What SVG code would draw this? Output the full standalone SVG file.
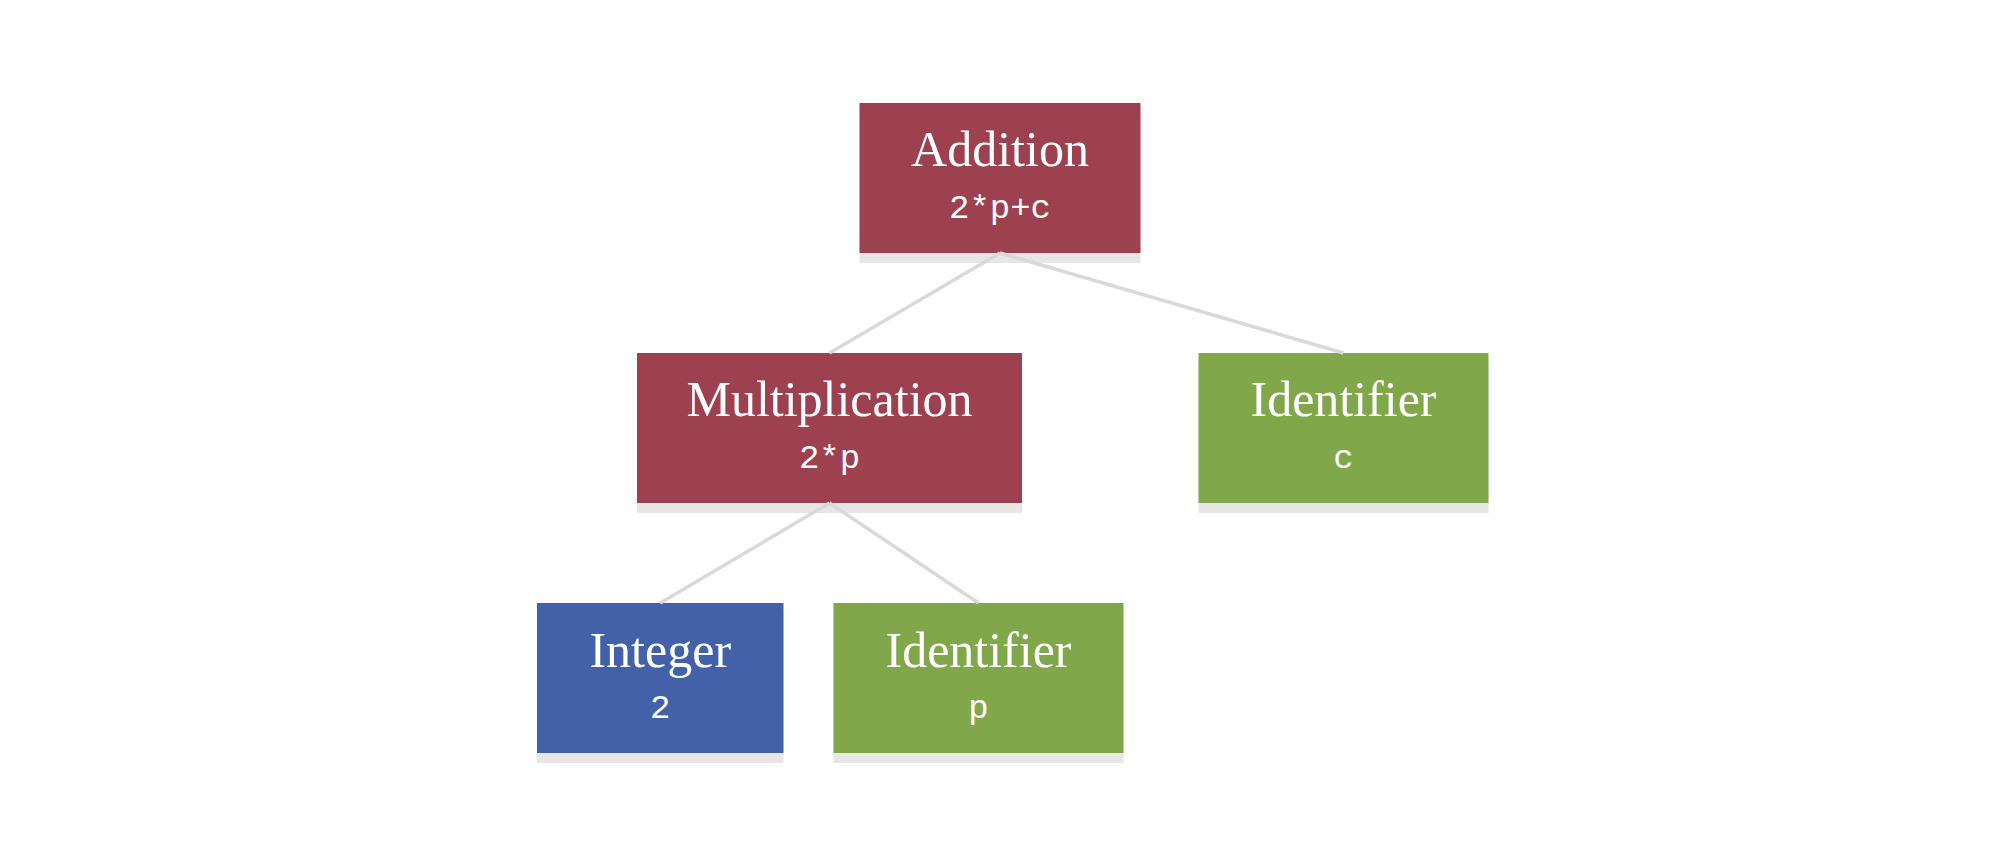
<svg xmlns="http://www.w3.org/2000/svg" width="1996" height="854" viewBox="0 0 1996 854">
  <style>
    .shadow { fill: #e6e6e6; }
    .op { fill: #9d404f; }
    .id { fill: #81a74b; }
    .int { fill: #4361a8; }
    .title { font-family: "Liberation Serif", "DejaVu Serif", serif; font-size: 50px; fill: #ffffff; text-anchor: middle; }
    .code { font-family: "Liberation Mono", "DejaVu Sans Mono", monospace; font-size: 34px; fill: #ffffff; text-anchor: middle; }
    .edge { stroke: #d9d9d9; stroke-width: 3.5; fill: none; stroke-linecap: butt; }
  </style>
  <rect width="1996" height="854" fill="#ffffff"/>

  <g id="node-addition">
    <rect class="shadow" x="859.5" y="113" width="281" height="150"/>
    <rect class="op" x="859.5" y="103" width="281" height="150"/>
    <text class="title" x="1000" y="166">Addition</text>
    <text class="code" x="1000" y="218">2*p+c</text>
  </g>

  <g id="node-multiplication">
    <rect class="shadow" x="637" y="363" width="385" height="150"/>
    <rect class="op" x="637" y="353" width="385" height="150"/>
    <text class="title" x="829.5" y="416">Multiplication</text>
    <text class="code" x="829.5" y="468">2*p</text>
  </g>

  <g id="node-identifier-c">
    <rect class="shadow" x="1198.5" y="363" width="290" height="150"/>
    <rect class="id" x="1198.5" y="353" width="290" height="150"/>
    <text class="title" x="1343.5" y="416">Identifier</text>
    <text class="code" x="1343.5" y="468">c</text>
  </g>

  <g id="node-integer">
    <rect class="shadow" x="537" y="613" width="246.5" height="150"/>
    <rect class="int" x="537" y="603" width="246.5" height="150"/>
    <text class="title" x="660.25" y="667">Integer</text>
    <text class="code" x="660.25" y="718">2</text>
  </g>

  <g id="node-identifier-p">
    <rect class="shadow" x="833.5" y="613" width="290" height="150"/>
    <rect class="id" x="833.5" y="603" width="290" height="150"/>
    <text class="title" x="978.5" y="667">Identifier</text>
    <text class="code" x="978.5" y="718">p</text>
  </g>

  <g id="connectors">
    <line class="edge" x1="1000" y1="253" x2="829.5" y2="353"/>
    <line class="edge" x1="1000" y1="253" x2="1343.5" y2="353"/>
    <line class="edge" x1="829.5" y1="503" x2="660.25" y2="603"/>
    <line class="edge" x1="829.5" y1="503" x2="978.5" y2="603"/>
  </g>
</svg>
